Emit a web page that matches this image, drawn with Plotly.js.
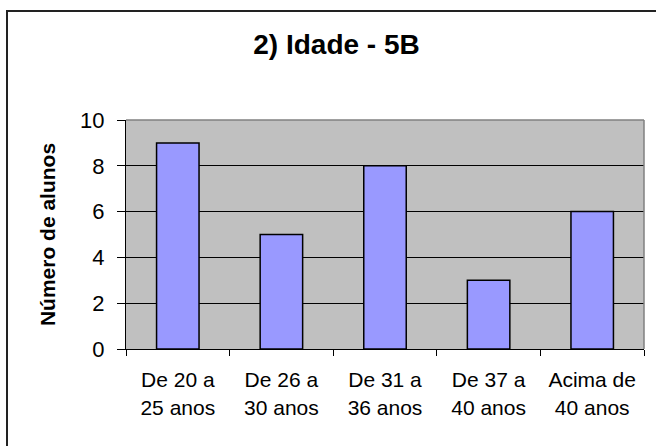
<!DOCTYPE html>
<html>
<head>
<meta charset="utf-8">
<script src="https://cdn.plot.ly/plotly-3.0.1.min.js"></script>
<style>
  html, body { margin: 0; padding: 0; background: #fff; }
  #wrap { position: relative; width: 656px; height: 446px; overflow: hidden; }
  #chart { position: absolute; left: 0; top: 0; width: 656px; height: 446px; }
  #frame { position: absolute; left: 6px; top: 10px; width: 700px; height: 500px;
           border: 2px solid #222; box-sizing: border-box; pointer-events: none; }
</style>
</head>
<body>
<div id="wrap">
  <div id="chart"></div>
  <div id="frame"></div>
</div>
<script>
const categories = ["De 20 a<br>25 anos", "De 26 a<br>30 anos", "De 31 a<br>36 anos", "De 37 a<br>40 anos", "Acima de<br>40 anos"];
const alunos = [9, 5, 8, 3, 6];
const yTicks = [0, 2, 4, 6, 8, 10];

const font = "Liberation Sans, Arial, sans-serif";

const data = [{
  type: "bar",
  x: categories,
  y: alunos,
  marker: { color: "#9999FF", line: { color: "#000000", width: 1.5 } },
  hoverinfo: "skip"
}];

const layout = {
  width: 656, height: 446,
  margin: { l: 126, r: 12, t: 120, b: 97 },
  paper_bgcolor: "rgba(0,0,0,0)",
  plot_bgcolor: "#C0C0C0",
  showlegend: false,
  bargap: 0.59,
  title: {
    text: "<b>2) Idade - 5B</b>",
    font: { family: font, size: 28, color: "#000" },
    x: 0.513, xanchor: "center",
    yref: "container", y: 0.9, yanchor: "middle"
  },
  xaxis: {
    type: "category",
    tickson: "boundaries",
    ticks: "outside", ticklen: 6, tickcolor: "#000", tickwidth: 1,
    ticklabelstandoff: 12,
    showline: true, linecolor: "#000", linewidth: 1,
    showgrid: false, zeroline: false,
    tickfont: { family: font, size: 21, color: "#000" }
  },
  yaxis: {
    range: [0, 10],
    tickvals: yTicks,
    ticktext: yTicks.map(String),
    ticks: "outside", ticklen: 8, tickcolor: "#000", tickwidth: 1,
    ticklabelstandoff: 8,
    showline: true, linecolor: "#000", linewidth: 1,
    showgrid: true, gridcolor: "#000", gridwidth: 1,
    zeroline: false,
    tickfont: { family: font, size: 22, color: "#000" },
    title: { text: "<b>Número de alunos</b>", font: { family: font, size: 21, color: "#000" }, standoff: 18 }
  },
  shapes: [
    { type: "line", xref: "paper", yref: "paper", x0: 0, x1: 1, y0: 1, y1: 1, line: { color: "#808080", width: 1.5 } },
    { type: "line", xref: "paper", yref: "paper", x0: 1, x1: 1, y0: 0, y1: 1, line: { color: "#808080", width: 1.5 } }
  ]
};

Plotly.newPlot("chart", data, layout, { staticPlot: true, displayModeBar: false });
</script>
</body>
</html>
